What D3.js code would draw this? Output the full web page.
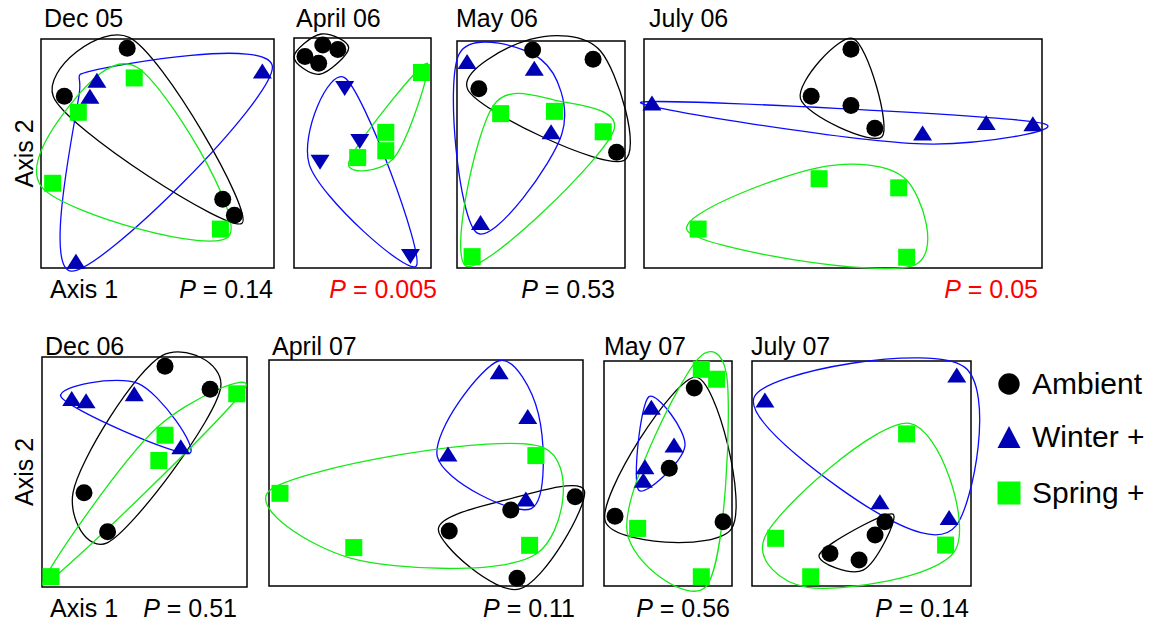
<!DOCTYPE html>
<html>
<head>
<meta charset="utf-8">
<script src="https://cdn.jsdelivr.net/npm/d3@7"></script>
<style>
  body { margin: 0; background: #fff; }
  text { font-family: "Liberation Sans", Arial, Helvetica, sans-serif; fill: #000; }
</style>
</head>
<body>
<div id="chart"></div>
<script>
// sampling dates and PerMANOVA-like P values
const panelTitles = ["Dec 05", "April 06", "May 06", "July 06", "Dec 06", "April 07", "May 07", "July 07"];
const pLabels = ["0.14", "0.005", "0.53", "0.05", "0.51", "0.11", "0.56", "0.14"];
const pValues = [0.14, 0.005, 0.53, 0.05, 0.51, 0.11, 0.56, 0.14];

const groups = ["Ambient", "Winter +", "Spring +"];

// ordination scores [axis1, axis2], rescaled 0-100 within each panel
const ambient = [
  [[37, 96], [10, 75], [78, 30], [83, 23]],
  [[21, 97], [32, 95], [8, 92], [18, 89]],
  [[45, 96], [81, 92], [13, 79], [95, 51]],
  [[52, 95.5], [42, 75], [52, 71], [58, 61]],
  [[60, 96], [82, 86], [20.5, 41], [32, 24]],
  [[97.5, 39.5], [77, 33.6], [57.4, 24.3], [79, 3.4]],
  [[70.5, 88], [51, 52.3], [8.6, 31], [93, 28.6]],
  [[60.7, 28.6], [56.2, 22.7], [35.6, 14.5], [48.9, 11.6]]
];
const winter = [
  [[95, 86], [24, 82], [21, 75], [15, 3]],
  [[37, 78], [48, 55], [19, 46], [85, 5]],
  [[6, 91], [46, 88], [56, 60], [14, 20]],
  [[2, 72], [70, 59], [86, 63.5], [97.7, 63]],
  [[14.5, 82], [21.5, 81], [45, 84], [67.7, 61]],
  [[73.3, 94.8], [82.4, 75], [57, 58.4], [81.8, 38.5]],
  [[37, 79.4], [54.7, 62.7], [32, 53], [30.7, 47]],
  [[93.5, 93.8], [5.9, 82.7], [58.4, 37.5], [90, 30.5]]
];
const spring = [
  [[40, 83], [16, 68], [5, 37], [77, 17]],
  [[93, 85], [67, 59], [67, 51], [46.5, 48]],
  [[26, 68], [58, 69], [87, 60], [9, 5]],
  [[44, 39], [64, 35], [13.6, 17], [66, 4.7]],
  [[95, 84], [60, 66], [57, 55], [4.4, 4.5]],
  [[85, 57.7], [3.5, 41], [27, 17], [83, 18]],
  [[76, 96.3], [88, 91.9], [26.3, 25.6], [76, 4.1]],
  [[70.6, 67.6], [10.8, 21.2], [88.4, 18.2], [26.8, 4.1]]
];

// page layout: frame box, title anchor, P label anchor
const layout = [
  { box: [41, 39, 274, 268], title: [44, 27], p: [273, 298], axes: true },
  { box: [294, 38, 431, 268], title: [296, 27], p: [437, 298], down: true },
  { box: [457, 41, 625, 268], title: [456, 27], p: [615, 298] },
  { box: [644, 39, 1042, 268], title: [649, 27], p: [1038, 298] },
  { box: [42, 357, 247, 587], title: [45, 355], p: [237, 617], axes: true },
  { box: [269, 360, 583, 586], title: [272, 355], p: [575, 617] },
  { box: [604, 361, 732, 586], title: [604, 355], p: [730, 617] },
  { box: [752, 361, 971, 586], title: [751, 355], p: [969, 617] }
];

const width = 1150, height = 624;
const colors = { marker: ["#000000", "#0000b4", "#00ff00"], line: ["#000000", "#0a0aff", "#14ea14"] };
const fs = "25px";

const svg = d3.select("#chart").append("svg")
  .attr("width", width)
  .attr("height", height);

const hullLine = d3.line().curve(d3.curveCatmullRomClosed.alpha(0.2));

// push the convex hull out a bit and round it off
function smoothHull(pts, d) {
  const h = d3.polygonHull(pts);
  const c = d3.polygonCentroid(h);
  const n = h.length;
  const norm = (u, v) => {
    let dx = v[0] - u[0], dy = v[1] - u[1];
    let l = Math.hypot(dx, dy) || 1;
    let nx = dy / l, ny = -dx / l;
    let mx = (u[0] + v[0]) / 2 - c[0], my = (u[1] + v[1]) / 2 - c[1];
    if (nx * mx + ny * my < 0) { nx = -nx; ny = -ny; }
    return [nx, ny];
  };
  const out = h.map((p, i) => {
    const a = h[(i - 1 + n) % n], b = h[(i + 1) % n];
    const n1 = norm(a, p), n2 = norm(p, b);
    let vx = n1[0] + n2[0], vy = n1[1] + n2[1];
    let l = Math.hypot(vx, vy) || 1;
    return [p[0] + vx / l * d, p[1] + vy / l * d];
  });
  return hullLine(out);
}

const triUp = "M0,-7.5L9.5,7.5L-9.5,7.5Z";
const triDown = "M0,7.5L9.5,-7.5L-9.5,-7.5Z";

layout.forEach((L, i) => {
  const [x0, y0, x1, y1] = L.box;
  const x = d3.scaleLinear().domain([0, 100]).range([x0, x1]);
  const y = d3.scaleLinear().domain([0, 100]).range([y1, y0]);
  const g = svg.append("g");

  g.append("rect")
    .attr("x", x0).attr("y", y0)
    .attr("width", x1 - x0).attr("height", y1 - y0)
    .attr("fill", "none").attr("stroke", "#000").attr("stroke-width", 1.5);

  const sets = [ambient[i], winter[i], spring[i]];
  const px = sets.map(s => s.map(d => [x(d[0]), y(d[1])]));

  // enclosures
  px.forEach((pts, k) => {
    g.append("path")
      .attr("d", smoothHull(pts, 11))
      .attr("fill", "none")
      .attr("stroke", colors.line[k])
      .attr("stroke-width", 1.3);
  });

  // markers
  g.selectAll(".sq").data(px[2]).enter().append("rect")
    .attr("x", d => d[0] - 8.5).attr("y", d => d[1] - 8.5)
    .attr("width", 17).attr("height", 17)
    .attr("fill", colors.marker[2]);
  g.selectAll(".tri").data(px[1]).enter().append("path")
    .attr("d", L.down ? triDown : triUp)
    .attr("transform", d => "translate(" + d[0] + "," + d[1] + ")")
    .attr("fill", colors.marker[1]);
  g.selectAll(".dot").data(px[0]).enter().append("circle")
    .attr("cx", d => d[0]).attr("cy", d => d[1]).attr("r", 8.5)
    .attr("fill", colors.marker[0]);

  // title
  g.append("text")
    .attr("x", L.title[0]).attr("y", L.title[1])
    .style("font-size", fs)
    .text(panelTitles[i]);

  // P value
  const pc = pValues[i] <= 0.05 ? "#ff0000" : "#000";
  const pt = g.append("text")
    .attr("x", L.p[0]).attr("y", L.p[1])
    .attr("text-anchor", "end")
    .style("font-size", fs);
  pt.append("tspan").style("font-style", "italic").style("fill", pc).text("P");
  pt.append("tspan").style("fill", pc).text(" = " + pLabels[i]);

  if (L.axes) {
    g.append("text")
      .attr("x", 50).attr("y", L.p[1])
      .style("font-size", fs)
      .text("Axis 1");
    g.append("text")
      .attr("transform", "translate(33," + (y0 + y1) / 2 + ") rotate(-90)")
      .attr("text-anchor", "middle")
      .style("font-size", fs)
      .text("Axis 2");
  }
});

// legend
const legend = svg.append("g").attr("transform", "translate(1009,0)");
const legY = [384, 437, 493];
legend.append("circle").attr("cx", 0).attr("cy", legY[0]).attr("r", 10.7).attr("fill", colors.marker[0]);
legend.append("path").attr("d", "M0,-11L11.5,11L-11.5,11Z")
  .attr("transform", "translate(0," + legY[1] + ")").attr("fill", colors.marker[1]);
legend.append("rect").attr("x", -11.5).attr("y", legY[2] - 11.5)
  .attr("width", 23).attr("height", 23).attr("fill", colors.marker[2]);
legend.selectAll(".lab").data(groups).enter().append("text")
  .attr("x", 23)
  .attr("y", (d, k) => legY[k] + 10)
  .style("font-size", "30px")
  .text(d => d);
</script>
</body>
</html>
